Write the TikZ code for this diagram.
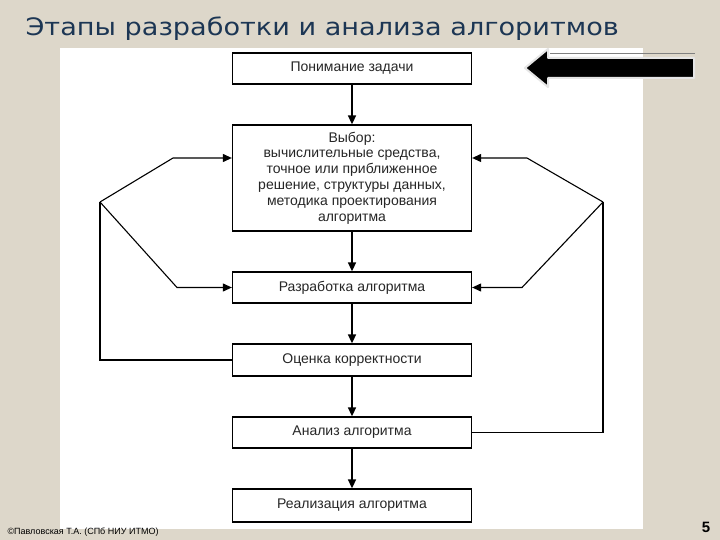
\documentclass[tikz,border=0pt]{standalone}
\usepackage{fontspec}
\setmainfont{Liberation Sans}
\newfontfamily\titlefont{DejaVu Sans}
\usepackage{tikz}
\usetikzlibrary{arrows.meta, positioning}
\definecolor{paper}{HTML}{DDD7CA}
\definecolor{titleblue}{HTML}{1C3654}
\tikzstyle{arrow} = [line width=1.6pt,-{Triangle[length=9pt,width=8pt]}]
\tikzstyle{back} = [line width=1.1pt,-{Triangle[length=9pt,width=8pt]}]
\tikzstyle{backline} = [line width=1.1pt]
\tikzstyle{block} = [rectangle, draw, line width=1.3pt, text=black!85, minimum width=239pt, minimum height=31pt, inner sep=2pt, font=\fontsize{14}{15.8}\selectfont]
\tikzset{every node/.style={align=center}}

\begin{document}
\begin{tikzpicture}[x=1pt,y=-1pt]
    \fill[paper] (0,0) rectangle (720,540);
    \useasboundingbox (0,0) rectangle (720,540);
    \fill[white] (60,48) rectangle (643,529);

    \node (title) [anchor=base west, text=titleblue, font=\titlefont\fontsize{24}{24}\selectfont] at (22,36) {\scalebox{1.13}[1]{Этапы разработки и анализа алгоритмов}};

    \node (und)    [block] at (352,68.5) {Понимание задачи};
    \node (choice) [block, minimum height=106pt] at (352,178) {Выбор:\\вычислительные средства,\\точное или приближенное\\решение, структуры данных,\\методика проектирования\\алгоритма};
    \node (dev)    [block] at (352,287.5) {Разработка алгоритма};
    \node (check)  [block, minimum height=32pt] at (352,360) {Оценка корректности};
    \node (anal)   [block] at (352,432.5) {Анализ алгоритма};
    \node (impl)   [block, minimum height=33pt] at (352,505.5) {Реализация алгоритма};

    \draw [arrow] (und)    -- (choice);
    \draw [arrow] (choice) -- (dev);
    \draw [arrow] (dev)    -- (check);
    \draw [arrow] (check)  -- (anal);
    \draw [arrow] (anal)   -- (impl);

    \coordinate (jl) at (100,202);
    \coordinate (jr) at (603,202);
    \draw [backline] (check.west) -| (jl);
    \draw [back] (jl) -- (173,158) -- ([yshift=20pt]choice.west);
    \draw [back] (jl) -- (177,287.5) -- (dev.west);
    \draw [backline] (anal.east) -| (jr);
    \draw [back] (jr) -- (527,158) -- ([yshift=20pt]choice.east);
    \draw [back] (jr) -- (522,287.5) -- (dev.east);

    \draw [gray, line width=1pt] (550,54) -- (695,54);
    \filldraw [draw=white!80!gray, fill=black, line width=2pt, line join=round] (525,68) -- (548,49) -- (548,58) -- (694,58) -- (694,78) -- (548,78) -- (548,87) -- cycle;

    \node (credit) [anchor=west, font=\fontsize{9}{9}\selectfont] at (4,532) {©Павловская Т.А. (СПб НИУ ИТМО)};
    \node (pnum) [font=\bfseries\fontsize{15}{15}\selectfont] at (706,527) {5};
\end{tikzpicture}
\end{document}
